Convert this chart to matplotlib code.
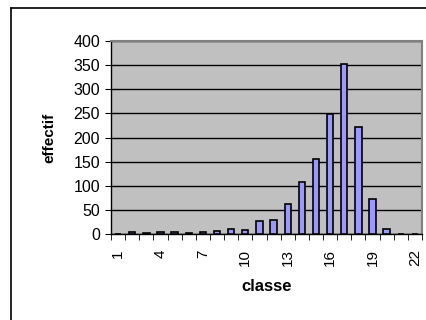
import numpy as np
import matplotlib
matplotlib.use("Agg")
import matplotlib.pyplot as plt
from matplotlib.lines import Line2D

plt.rcParams['font.family'] = ['Liberation Sans', 'DejaVu Sans']

# effectifs par classe
classes = list(range(1, 23))
effectifs = [0, 5, 3, 4, 5, 3, 4, 6, 10, 8, 26, 30, 63, 107, 155, 249, 352, 222, 73, 10, 1, 0]
tick_labels = ["1", "4", "7", "10", "13", "16", "19", "22"]
yticks = [0, 50, 100, 150, 200, 250, 300, 350, 400]

fig = plt.figure(figsize=(4.27, 3.2), dpi=100)
ax = fig.add_axes([111 / 427, 1 - 234 / 320, 311 / 427, 193 / 320])

# cadre du graphique (bords haut et gauche seulement visibles)
x0, y0 = 11.5 / 427, 1 - 7.5 / 320
fig.lines.append(Line2D([x0, 1.0], [y0, y0], transform=fig.transFigure,
                        color="black", linewidth=1.2))
fig.lines.append(Line2D([x0, x0], [0.0, y0], transform=fig.transFigure,
                        color="black", linewidth=1.2))

ax.set_facecolor("#C0C0C0")
ax.bar(classes, effectifs, width=0.45, color="#9999FF",
       edgecolor="black", linewidth=1.2, zorder=3)

ax.set_xlim(0.5, 22.5)
ax.set_ylim(0, 400)
ax.set_yticks(yticks)
ax.yaxis.grid(True, color="black", linewidth=1.0, zorder=1)
ax.set_axisbelow(True)

ax.set_xticks([int(t) for t in tick_labels])
ax.set_xticklabels(tick_labels, rotation=90, fontsize=11)
ax.set_xticks(np.arange(0.5, 23, 1), minor=True)
ax.tick_params(axis="x", which="major", length=0, pad=11)
ax.tick_params(axis="x", which="minor", length=4, direction="out", color="black")
ax.tick_params(axis="y", length=4, direction="out", labelsize=11.5, pad=4)

for s in ["top", "right"]:
    ax.spines[s].set_color("#808080")
    ax.spines[s].set_linewidth(1.5)
for s in ["left", "bottom"]:
    ax.spines[s].set_color("black")
    ax.spines[s].set_linewidth(1.0)

ax.set_xlabel("classe", fontsize=12, fontweight="bold", labelpad=9)
ax.set_ylabel("effectif", fontsize=11, fontweight="bold", labelpad=12)

fig.savefig("out.png", dpi=100)
